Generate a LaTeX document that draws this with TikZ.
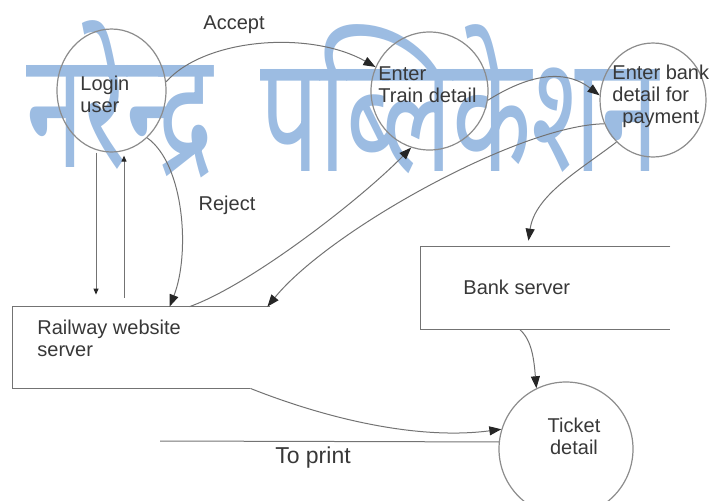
\documentclass[tikz,border=0pt]{standalone}
\usepackage{fontspec}
\setmainfont{Liberation Sans}
\newfontfamily\devfont[Script=Devanagari]{Noto Sans}
\usepackage{tikz}
\usetikzlibrary{arrows.meta, shapes.geometric}

\begin{document}
\begin{tikzpicture}[x=0.5pt, y=-0.5pt,
    >={Triangle[length=6pt, width=4.5pt, color=tipdark]},
    every node/.style={inner sep=0pt, text=txtgray, font=\fontsize{10}{11}\selectfont},
    proc/.style={ellipse, draw=circgray, line width=0.6pt},
    store/.style={rectangle},
    conn/.style={draw=linegray, line width=0.5pt},
    flow/.style={conn, ->},
    tickflow/.style={conn, -{Triangle[length=3pt, width=2.5pt, color=tipdark]}},
    wmark/.style={font=\devfont\fontsize{82}{82}\selectfont, text=wmblue, xscale=0.63}]
      \colorlet{txtgray}{black!78} \colorlet{linegray}{black!55}
      \colorlet{circgray}{black!45} \colorlet{tipdark}{black!85}
      \definecolor{wmblue}{RGB}{156,188,226}
      \useasboundingbox (0,0) rectangle (710,500);

      % publisher mark in the background
      \begin{scope}
        \clip (0,0) rectangle (710,500);
        \node[wmark] (wmleft) at (120,99) {नरेन्द्र};
        \node[wmark] (wmright) at (460,99) {पब्लिकेशन};
      \end{scope}

      % processes
      \node[proc, minimum width=54.5pt, minimum height=61.5pt] (login) at (111.5,90.5) {};
      \node[proc, minimum width=58.5pt, minimum height=59pt] (train) at (429.5,91) {};
      \node[proc, minimum width=53pt, minimum height=57pt] (bankpay) at (653,100) {};
      \node[proc, minimum width=67pt, minimum height=67pt] (ticket) at (566,449) {};
      \node[anchor=west, align=left] (loginlbl) at (80,94) {Login\\user};
      \node[anchor=west, align=left] (trainlbl) at (378,85) {Enter\\Train detail};
      \node[anchor=west, align=left] (bankpaylbl) at (612,96) {Enter bank\\detail for\\\hspace*{5pt}payment};
      \node[align=center] (ticketlbl) at (574,436) {Ticket\\detail};

      % data stores, open on the right
      \node[store, minimum width=128.5pt, minimum height=40.5pt] (rail) at (141.5,347.5) {};
      \node[store, minimum width=124.5pt, minimum height=41pt] (bank) at (545.5,288) {};
      \draw[conn] (rail.north east) -- (rail.north west) -- (rail.south west) -- ([xshift=-10pt]rail.south east);
      \draw[conn] (bank.north east) -- (bank.north west) -- (bank.south west) -- (bank.south east);
      \node[anchor=west, align=left] (raillbl) at (37,338) {Railway website\\server};
      \node[anchor=west] (banklbl) at (463,287) {Bank server};

      % flows
      \draw[flow] (login.9) .. controls (205,38) and (310,30) .. (train.156);
      \draw[flow] (login.-53) .. controls (185,165) and (190,255) .. ([xshift=78.5pt]rail.north west);
      \draw[tickflow, shorten >=6pt] ([xshift=-7.75pt]login.south) -- ([xshift=-7.75pt]login.south |- rail.north);
      \draw[tickflow, shorten <=4.5pt, shorten >=1.5pt] ([xshift=6.25pt]login.south |- rail.north) -- ([xshift=6.25pt]login.south);
      \draw[flow] ([xshift=88.5pt]rail.north west) .. controls (250,285) and (360,200) .. (train.-108);
      \draw[flow] (train.-9) .. controls (520,80) and (560,65) .. (bankpay.175);
      \draw[flow] (bankpay.206) .. controls (520,125) and (330,230) .. ([xshift=-1.5pt]rail.north east);
      \draw[flow, shorten >=3pt] (bankpay.-131) .. controls (580,170) and (535,195) .. ([xshift=53.5pt]bank.north west);
      \draw[flow] ([xshift=49.5pt]bank.south west) .. controls (532,340) and (534,360) .. (ticket.116);
      \draw[flow] ([xshift=-10pt]rail.south east) .. controls (330,420) and (420,440) .. (ticket.163);
      \coordinate (printout) at (160,441);
      \draw[conn] (ticket.174) -- (printout);

      % flow labels
      \node (acceptlbl) at (234,25) {Accept};
      \node (rejectlbl) at (227,205) {Reject};
      \node[font=\fontsize{11.5}{12}\selectfont] (printlbl) at (313,458) {To print};
\end{tikzpicture}
\end{document}
